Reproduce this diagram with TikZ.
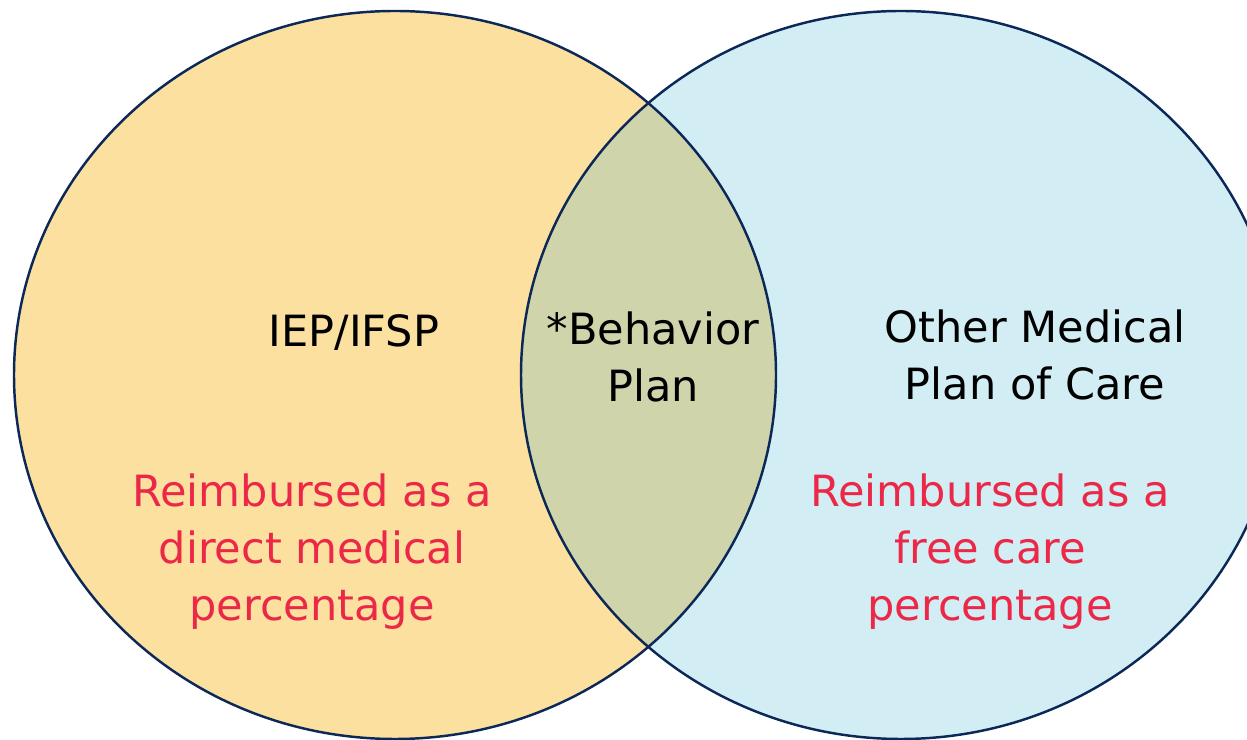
\documentclass[tikz,border=0pt]{standalone}
\usepackage{fontspec}
\setmainfont{DejaVu Sans}
\usetikzlibrary{positioning}

\definecolor{iepfill}{RGB}{252,224,160}
\definecolor{carefill}{RGB}{210,238,244}
\definecolor{bothfill}{RGB}{207,212,170}
\definecolor{rim}{RGB}{12,40,88}
\definecolor{paytext}{RGB}{236,40,72}

\begin{document}
\begin{tikzpicture}[x=0.02cm,y=0.02cm,
        plan/.style={align=center,font=\fontsize{24.5}{32.4}\selectfont,text=black},
        pay/.style={plan,text=paytext}]
            \useasboundingbox (0,0) rectangle (1247,740);
            % the two sets
            \fill[iepfill] (395,365) ellipse [x radius=381,y radius=364];
            \fill[carefill] (901,365) ellipse [x radius=380,y radius=364];
            \begin{scope}
                \clip (395,365) ellipse [x radius=381,y radius=364];
                \fill[bothfill] (901,365) ellipse [x radius=380,y radius=364];
            \end{scope}
            \draw[rim,line width=1.4pt] (395,365) ellipse [x radius=381,y radius=364];
            \draw[rim,line width=1.4pt] (901,365) ellipse [x radius=380,y radius=364];
            % labels
            \node[plan] (iep) at (354,407) {IEP/IFSP};
            \node[plan] (both) at (653,383) {*Behavior\\Plan};
            \node[plan] (other) at (1035,385) {Other Medical\\Plan of Care};
            \node[pay] (direct) at (312,188) {Reimbursed as a\\direct medical\\percentage};
            \node[pay] (free) at (990,188) {Reimbursed as a\\free care\\percentage};
        \end{tikzpicture}
\end{document}
